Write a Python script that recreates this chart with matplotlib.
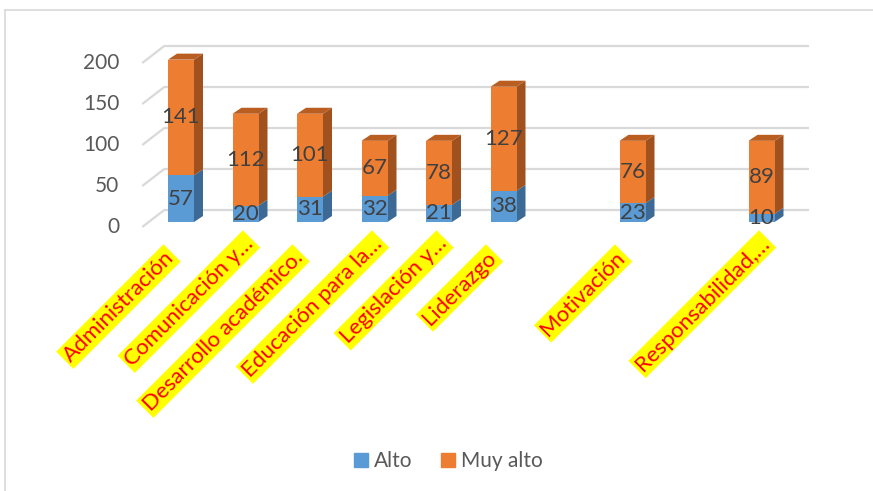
import matplotlib
matplotlib.use('Agg')
import matplotlib.pyplot as plt
from matplotlib.patches import Polygon, Patch
from matplotlib.lines import Line2D
import numpy as np

# ---------------- data ----------------
categories = ['Administración', 'Comunicación y…', 'Desarrollo académico.',
              'Educación para la…', 'Legislación y…', 'Liderazgo', '',
              'Motivación', '', 'Responsabilidad,…']
alto = [57, 20, 31, 32, 21, 38, np.nan, 23, np.nan, 10]
muy_alto = [141, 112, 101, 67, 78, 127, np.nan, 76, np.nan, 89]
yticks = [0, 50, 100, 150, 200]
series_names = ['Alto', 'Muy alto']

# ---------------- style ----------------
plt.rcParams['font.family'] = ['Lato', 'DejaVu Sans']
BLUE, BLUE_SIDE = '#5B9BD5', '#3C6A94'
ORANGE, ORANGE_SIDE, ORANGE_TOP = '#ED7D31', '#A0511D', '#B95D20'
GRID = '#D9D9D9'

W, H = 873, 491
fig = plt.figure(figsize=(W / 100, H / 100), dpi=100)

# front plane of the bars (pixel layout)
x0_px, x1_px = 148.75, 793.75
ybase_px = 222
ppu = 0.82                         # pixels per value unit
pcat = (x1_px - x0_px) / len(categories)   # pixels per category
ax = fig.add_axes([x0_px / W, (H - ybase_px) / H, (x1_px - x0_px) / W, 200 * ppu / H])
ax.set_xlim(-0.5, len(categories) - 0.5)
ax.set_ylim(0, 200)
ax.axis('off')

def dx(px):
    return px / pcat

def dy(px):
    return px / ppu

# depth offsets (data units)
bar_dx, bar_dy = dx(9), dy(6)
back_dx, back_dy = dx(15.5), dy(12)
front_dx, front_dy = dx(-6.5), dy(-5)

# gridlines on back wall + left diagonals
xl, xr = -0.5, len(categories) - 0.5
for v in yticks:
    ax.plot([xl + back_dx, xr + back_dx], [v + back_dy, v + back_dy],
            color=GRID, lw=1.6, zorder=1, clip_on=False, solid_capstyle='butt')
    ax.plot([xl + front_dx, xl + back_dx], [v + front_dy, v + back_dy],
            color=GRID, lw=1.6, zorder=1, clip_on=False, solid_capstyle='butt')
    ax.text(xl + dx(-29.5), v + front_dy, f'{v}', ha='right', va='center',
            fontsize=15, color='#595959', clip_on=False)

x = np.arange(len(categories))
bw = dx(26)
a = np.array(alto, dtype=float)
m = np.array(muy_alto, dtype=float)

ax.bar(x, a, width=bw, color=BLUE, zorder=3, clip_on=False)
ax.bar(x, m, width=bw, bottom=a, color=ORANGE, zorder=3, clip_on=False)

def side(xc, b, t, col):
    xr_ = xc + bw / 2
    ax.add_patch(Polygon([(xr_, b), (xr_ + bar_dx, b + bar_dy),
                          (xr_ + bar_dx, t + bar_dy), (xr_, t)],
                         closed=True, color=col, zorder=2.5, clip_on=False, lw=0))

def top(xc, t, col):
    xl_ = xc - bw / 2
    xr_ = xc + bw / 2
    ax.add_patch(Polygon([(xl_, t), (xr_, t), (xr_ + bar_dx, t + bar_dy),
                          (xl_ + bar_dx, t + bar_dy)],
                         closed=True, color=col, zorder=2.5, clip_on=False, lw=0))

for i in range(len(categories)):
    if np.isnan(a[i]):
        continue
    side(x[i], 0, a[i], BLUE_SIDE)
    side(x[i], a[i], a[i] + m[i], ORANGE_SIDE)
    top(x[i], a[i] + m[i], ORANGE_TOP)
    ax.text(x[i], a[i] / 2, f'{int(a[i])}', ha='center', va='center',
            fontsize=16, color='#404040', zorder=5, clip_on=False)
    ax.text(x[i], a[i] + m[i] / 2, f'{int(m[i])}', ha='center', va='center',
            fontsize=16, color='#404040', zorder=5, clip_on=False)

# category labels (rotated, yellow highlight)
for i, lab in enumerate(categories):
    if not lab:
        continue
    if lab.endswith('…'):
        ox, oy = 7, 238
    else:
        ox, oy = -8, 252
    # move from box-edge midpoint to text end (pad)
    ox -= 2.5
    oy += 2.5
    ax.text(x[i] + dx(ox), dy(ybase_px - oy), lab, rotation=45,
            rotation_mode='anchor', ha='right', va='center',
            fontsize=16, color='#FF0000', clip_on=False, zorder=4,
            bbox=dict(boxstyle='square,pad=0.1', fc='#FFFF00', ec='none'))

# legend
handles = [Patch(color=BLUE, label=series_names[0]),
           Patch(color=ORANGE, label=series_names[1])]
leg = fig.legend(handles=handles, loc='center', bbox_to_anchor=(448.5 / W, 1 - 461 / H),
                 ncol=2, frameon=False, fontsize=15, handlelength=0.65,
                 handleheight=0.65, handletextpad=0.3, columnspacing=1.4)
for t in leg.get_texts():
    t.set_color('#595959')

# chart border
fig.add_artist(Line2D([5 / W, 1], [1 - 10 / H, 1 - 10 / H], color=GRID, lw=1.2))
fig.add_artist(Line2D([5 / W, 5 / W], [1 - 10 / H, 0], color=GRID, lw=1.2))

fig.savefig('out.png', dpi=100)
